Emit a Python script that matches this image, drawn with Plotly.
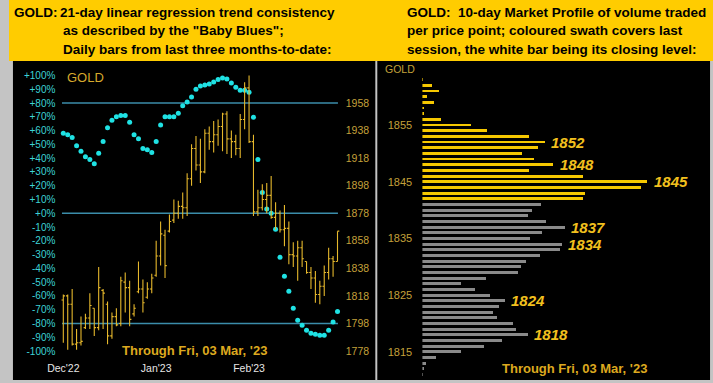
import plotly.graph_objects as go

W, H = 713, 383

# ---------------- Left chart data ----------------
idx = list(range(63))
opens = [1815, 1818, 1812, 1783, 1784, 1795, 1802, 1809, 1795, 1822,
         1812, 1789, 1803, 1798, 1828, 1824, 1805, 1821, 1823, 1817,
         1823, 1833, 1847, 1862, 1865, 1873, 1878, 1883, 1882, 1903,
         1925, 1913, 1908, 1936, 1930, 1935, 1941, 1950, 1932, 1930,
         1925, 1946, 1969, 1930, 1879, 1882, 1888, 1891, 1875, 1878,
         1866, 1867, 1848, 1847, 1853, 1843, 1835, 1831, 1819, 1825,
         1835, 1845, 1843]
highs = [1819, 1819, 1823, 1794, 1803, 1805, 1820, 1809, 1839, 1823,
         1814, 1806, 1809, 1832, 1835, 1829, 1812, 1843, 1830, 1828,
         1834, 1858, 1872, 1866, 1877, 1888, 1887, 1893, 1907, 1928,
         1934, 1932, 1939, 1941, 1945, 1946, 1951, 1952, 1938, 1935,
         1950, 1973, 1978, 1935, 1895, 1899, 1900, 1905, 1886, 1880,
         1884, 1872, 1857, 1858, 1858, 1843, 1839, 1836, 1829, 1840,
         1853, 1847, 1865]
lows = [1784, 1779, 1782, 1779, 1782, 1794, 1794, 1789, 1793, 1794,
        1783, 1787, 1796, 1796, 1806, 1796, 1803, 1820, 1806, 1816,
        1820, 1832, 1840, 1831, 1864, 1871, 1874, 1874, 1876, 1898,
        1909, 1900, 1907, 1924, 1922, 1927, 1923, 1921, 1918, 1920,
        1918, 1939, 1929, 1876, 1876, 1880, 1878, 1874, 1866, 1864,
        1854, 1841, 1839, 1829, 1839, 1834, 1823, 1813, 1812, 1818,
        1830, 1832, 1843]
closes = [1818, 1812, 1783, 1784, 1785, 1802, 1811, 1795, 1824, 1820,
          1789, 1803, 1797, 1829, 1824, 1801, 1809, 1823, 1813, 1823,
          1831, 1847, 1863, 1840, 1872, 1878, 1883, 1882, 1903, 1925,
          1913, 1908, 1936, 1930, 1935, 1941, 1950, 1932, 1930, 1925,
          1946, 1969, 1930, 1879, 1882, 1888, 1891, 1875, 1878, 1866,
          1867, 1848, 1847, 1853, 1845, 1835, 1831, 1819, 1825, 1835,
          1845, 1843, 1865]
consistency = [58, 57, 55, 49, 45, 41, 39, 36, 43.5, 52,
               62, 67.5, 70, 71, 71, 66, 57, 54, 47, 46,
               44, 52, 64, 70, 70, 70, 72.5, 78, 80.8, 84.4,
               90, 92.4, 93.1, 93.8, 95.3, 97, 98.2, 97.5, 94.6, 91.4,
               89.3, 89.3, 87.8, 69.7, 39, 15, 3, 0, -11.6, -32,
               -45.7, -56.6, -69, -77.6, -81.3, -85, -87, -87.8, -88.5, -88.5,
               -85, -79, -71.3]
month_ticks = [0, 21, 42]
month_labels = ["Dec'22", "Jan'23", "Feb'23"]
pct_ticks = list(range(-100, 101, 10))
pct_labels = [("+" if v >= 0 else "") + str(v) + "%" for v in pct_ticks]
price_ticks = [1778, 1798, 1818, 1838, 1858, 1878, 1898, 1918, 1938, 1958]
ref_levels = [80, 0, -80]
price_offset = 1878  # price axis = pct axis + 1878

# ---------------- Right chart data ----------------
profile_prices = list(range(1863, 1810, -1))
profile_volume = [1, 10.6, 17, 4.6, 12, 1.3, 1.3, 19, 50, 65.6,
                  108, 124.6, 117, 101.3, 113, 133, 108, 163, 228, 221.3,
                  164.6, 163, 120.6, 111.3, 107.3, 126, 144.6, 121.3, 109, 141.3,
                  139.6, 119.6, 105, 100, 97, 65, 39.6, 53.6, 69, 84,
                  78, 72, 76, 92, 95, 107, 81, 63, 39, 14.6,
                  3.6, 1.6, 1]
last_session_low, last_session_high = 1842, 1863
labelled_levels = [1852, 1848, 1845, 1837, 1834, 1824, 1818]
profile_ticks = [1815, 1825, 1835, 1845, 1855]

# ---------------- helpers ----------------
def xp(px):
    return px / W

def yp(py):
    return 1 - py / H

FONT = "Liberation Sans, Arial, sans-serif"
GOLD_BAR = "#E6B82C"
CYAN = "#1FE2E4"
CYAN_LBL = "#3DD3D6"
OLIVE = "#C4A03A"
LINE_BLUE = "#3B8DAA"
YELLOW = "#F6C800"
GRAY = "#8A8A8A"
TEXT_GOLD = "#DDA91F"

fig = go.Figure()

fig.add_trace(go.Ohlc(
    x=idx, open=opens, high=highs, low=lows, close=closes,
    xaxis="x", yaxis="y2",
    increasing=dict(line=dict(color=GOLD_BAR, width=1.1)),
    decreasing=dict(line=dict(color=GOLD_BAR, width=1.1)),
    tickwidth=0.4, hoverinfo="skip", showlegend=False,
))
fig.add_trace(go.Scatter(
    x=idx, y=consistency, mode="markers", xaxis="x", yaxis="y",
    marker=dict(color=CYAN, size=5, line=dict(width=0)),
    hoverinfo="skip", showlegend=False,
))

bar_colors = [YELLOW if last_session_low <= p <= last_session_high else GRAY
              for p in profile_prices]
fig.add_trace(go.Bar(
    y=profile_prices, x=profile_volume, orientation="h",
    xaxis="x2", yaxis="y3", marker=dict(color=bar_colors, line=dict(width=0)),
    width=0.52, hoverinfo="skip", showlegend=False,
))

# x/y pixel geometry
x_px0, x_px1 = 48, 340
idx_at = lambda px: (px - 55) / ((332.7 - 55) / 62)
y_top, y_bot = 62, 360
ppp = 1.378
pct_top = 80 + (103 - y_top) / ppp
pct_bot = 80 - (y_bot - 103) / ppp

r_top, r_bot = 62, 380
ppd = 5.67
pr_top = 1855 + (125 - r_top) / ppd
pr_bot = 1855 - (r_bot - 125) / ppd
bar_x0 = 418.7

axis_common = dict(showgrid=False, zeroline=False, showline=False)

fig.update_layout(
    width=W, height=H, margin=dict(l=0, r=0, t=0, b=0),
    paper_bgcolor="#C4C4C4", plot_bgcolor="rgba(0,0,0,0)",
    font=dict(family=FONT),
    bargap=0,
    xaxis=dict(domain=[xp(x_px0), xp(x_px1)], range=[idx_at(x_px0), idx_at(x_px1)],
               anchor="y", tickmode="array", tickvals=month_ticks, ticktext=month_labels,
               tickfont=dict(color="#E6E6E6", size=10.5), ticks="", ticklabelstandoff=0,
               rangeslider=dict(visible=False), fixedrange=True, **axis_common),
    yaxis=dict(domain=[yp(y_bot), yp(y_top)], range=[pct_bot, pct_top], anchor="x",
               tickmode="array", tickvals=pct_ticks, ticktext=pct_labels,
               tickfont=dict(color=CYAN_LBL, size=10), ticks="", **axis_common),
    yaxis2=dict(overlaying="y", side="right", anchor="x",
                range=[pct_bot + price_offset, pct_top + price_offset],
                tickmode="array", tickvals=price_ticks,
                tickfont=dict(color=OLIVE, size=10.5), ticks="", **axis_common),
    xaxis2=dict(domain=[xp(bar_x0), 1], range=[0, W - bar_x0], anchor="y3",
                visible=False, **axis_common),
    yaxis3=dict(domain=[yp(r_bot), yp(r_top)], range=[pr_bot, pr_top], anchor="x2",
                tickmode="array", tickvals=profile_ticks,
                tickfont=dict(color=OLIVE, size=11), ticks="outside", ticklen=7,
                tickcolor="rgba(0,0,0,0)", **axis_common),
)

shapes = [
    dict(type="rect", xref="paper", yref="paper", x0=0, x1=1, y0=yp(61), y1=1,
         fillcolor="#FFCC00", line=dict(width=0), layer="below"),
    dict(type="rect", xref="paper", yref="paper", x0=xp(4), x1=xp(371), y0=yp(380), y1=yp(61),
         fillcolor="#000000", line=dict(width=0), layer="below"),
    dict(type="rect", xref="paper", yref="paper", x0=xp(373), x1=xp(710), y0=yp(380), y1=yp(61),
         fillcolor="#000000", line=dict(width=0), layer="below"),
]
for lv in ref_levels:
    shapes.append(dict(type="line", xref="x", yref="y", x0=-0.3, x1=62.1, y0=lv, y1=lv,
                       line=dict(color=LINE_BLUE, width=1.5), layer="below"))
fig.update_layout(shapes=shapes)

ann = []
def txt(x, y, s, size, color, bold=False, italic=False, xanchor="left"):
    t = s
    if italic:
        t = "<i>" + t + "</i>"
    if bold:
        t = "<b>" + t + "</b>"
    ann.append(dict(x=xp(x), y=yp(y), xref="paper", yref="paper", text=t, showarrow=False,
                    xanchor=xanchor, yanchor="middle", borderpad=0,
                    font=dict(size=size, color=color, family=FONT)))

hdr = 13.5
txt(4, 12, "GOLD:", hdr, "#000", bold=True)
txt(51, 12, "21-day linear regression trend consistency", hdr, "#000", bold=True)
txt(54, 31, "as described by the \"Baby Blues\";", hdr, "#000", bold=True)
txt(54, 50, "Daily bars from last three months-to-date:", hdr, "#000", bold=True)
txt(402, 12, "GOLD:  10-day Market Profile of volume traded", hdr, "#000", bold=True)
txt(402, 31, "per price point; coloured swath covers last", hdr, "#000", bold=True)
txt(402, 50, "session, the white bar being its closing level:", hdr, "#000", bold=True)

txt(58, 77, "GOLD", 13, "#D6A92C")
txt(380, 69, "GOLD", 10.5, OLIVE)
txt(188, 350, "Through Fri, 03 Mar, '23", 13, TEXT_GOLD, bold=True, xanchor="center")
txt(573, 368, "Through Fri, 03 Mar, '23", 13, TEXT_GOLD, bold=True, xanchor="center")

for lv in labelled_levels:
    v = profile_volume[profile_prices.index(lv)]
    ann.append(dict(x=v, y=lv, xref="x2", yref="y3", text="<b><i>%d</i></b>" % lv,
                    showarrow=False, xanchor="left", yanchor="middle", xshift=4,
                    font=dict(size=15, color="#F2C01E", family=FONT)))

fig.update_layout(annotations=ann)
fig.write_html("out.html", config={"displayModeBar": False},
               post_script="document.body.style.margin='0px';")
